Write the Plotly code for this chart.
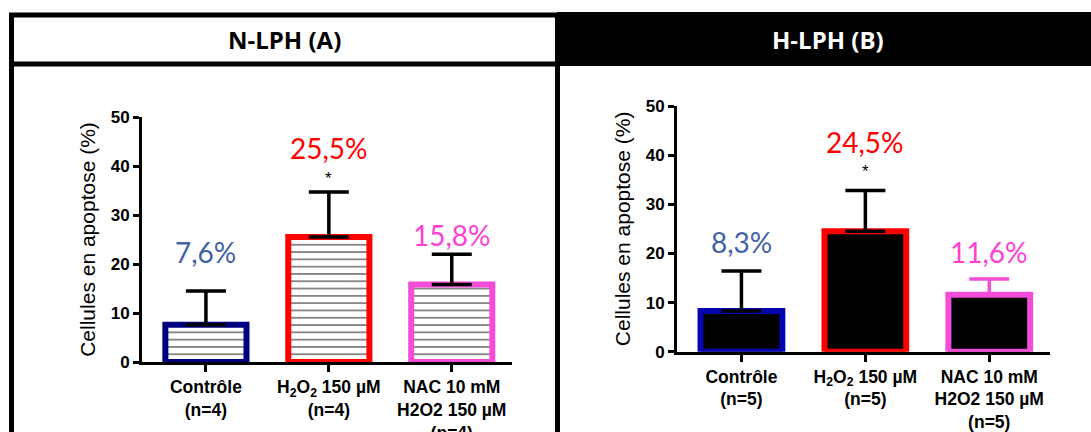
import plotly.graph_objects as go

# ---------------- data ----------------
categories_A = ["Contrôle<br>(n=4)",
                "H<sub>2</sub>O<sub>2</sub> 150 µM<br>(n=4)",
                "NAC 10 mM<br>H2O2 150 µM<br>(n=4)"]
values_A = [7.6, 25.5, 15.8]
errors_A = [6.9, 9.2, 6.2]
labels_A = ["7,6%", "25,5%", "15,8%"]
stars_A = ["", "*", ""]

categories_B = ["Contrôle<br>(n=5)",
                "H<sub>2</sub>O<sub>2</sub> 150 µM<br>(n=5)",
                "NAC 10 mM<br>H2O2 150 µM<br>(n=5)"]
values_B = [8.3, 24.5, 11.6]
errors_B = [8.1, 8.3, 3.2]
labels_B = ["8,3%", "24,5%", "11,6%"]
stars_B = ["", "*", ""]

panel_titles = ["N-LPH (A)", "H-LPH (B)"]
y_title = "Cellules en apoptose (%)"

# ---------------- styles / layout constants ----------------
W, H = 1091, 432
outline_A = ["#00007F", "#FF0000", "#F24CD8"]
outline_B = ["#0505B0", "#FF0000", "#F24CD8"]
errcol_B = ["black", "black", "#F24CD8"]
label_colors = ["#3F62A8", "#FF0000", "#FF40D2"]
label_y_A = [22.5, 43.6, 25.9]
label_y_B = [22.4, 42.6, 20.3]
star_y_A = [0, 37.5, 0]
star_y_B = [0, 36.7, 0]


def px(x):
    return x / W


def py(y):
    return 1 - y / H


fig = go.Figure()


def add_bars(cats, vals, errs, outlines, errcols, xa, ya, patterned):
    for i, (c, v, e) in enumerate(zip(cats, vals, errs)):
        marker = dict(color="white" if patterned else "black",
                      line=dict(color=outlines[i], width=6))
        if patterned:
            marker["pattern"] = dict(shape="-", size=7.3, solidity=0.24,
                                     fgcolor="#000000", bgcolor="white")
        fig.add_trace(go.Bar(
            x=[c], y=[v], width=0.66, marker=marker,
            error_y=dict(type="data", array=[e], arrayminus=[0],
                         symmetric=False, color=errcols[i],
                         thickness=3.5, width=20),
            xaxis=xa, yaxis=ya, showlegend=False))


add_bars(categories_A, values_A, errors_A, outline_A, ["black"] * 3, "x", "y", True)
add_bars(categories_B, values_B, errors_B, outline_B, errcol_B, "x2", "y2", False)

annotations = []
for cats, labs, ly, stars, sy, xr, yr in [
        (categories_A, labels_A, label_y_A, stars_A, star_y_A, "x", "y"),
        (categories_B, labels_B, label_y_B, stars_B, star_y_B, "x2", "y2")]:
    for i, c in enumerate(cats):
        annotations.append(dict(x=c, y=ly[i], xref=xr, yref=yr, text=labs[i],
                                showarrow=False, xanchor="center", yanchor="middle",
                                font=dict(family="Lato", size=28, color=label_colors[i])))
        if stars[i]:
            annotations.append(dict(x=c, y=sy[i], xref=xr, yref=yr, text=stars[i],
                                    showarrow=False, xanchor="center", yanchor="middle",
                                    font=dict(family="Liberation Sans", size=17, color="black")))

# panel titles
annotations.append(dict(x=px(284), y=py(39), xref="paper", yref="paper",
                        text="<b>" + panel_titles[0] + "</b>", showarrow=False,
                        xanchor="center", yanchor="middle",
                        font=dict(family="Open Sans", size=24, color="black")))
annotations.append(dict(x=px(828), y=py(39), xref="paper", yref="paper",
                        text="<b>" + panel_titles[1] + "</b>", showarrow=False,
                        xanchor="center", yanchor="middle",
                        font=dict(family="Open Sans", size=24, color="white")))

shapes = [
    # black header of panel B
    dict(type="rect", xref="paper", yref="paper", x0=px(557), x1=px(1095),
         y0=py(12), y1=py(66), fillcolor="black", line=dict(width=0), layer="below"),
    # header box of panel A
    dict(type="rect", xref="paper", yref="paper", x0=px(11.5), x1=px(557.5),
         y0=py(15), y1=py(64), line=dict(color="black", width=5)),
    # side borders of panel A
    dict(type="line", xref="paper", yref="paper", x0=px(11.5), x1=px(11.5),
         y0=py(64), y1=py(440), line=dict(color="black", width=5)),
    dict(type="line", xref="paper", yref="paper", x0=px(557.5), x1=px(557.5),
         y0=py(64), y1=py(440), line=dict(color="black", width=5)),
]

tickfont = dict(family="Liberation Sans", size=17, color="black", weight="bold")
xfont = dict(family="Liberation Sans", size=17.5, color="black", weight="bold")


def xaxis(dom, anchor):
    return dict(domain=dom, anchor=anchor, type="category", range=[-0.52, 2.49],
                showline=True, linecolor="black", linewidth=3,
                ticks="outside", ticklen=7, tickwidth=2.5, tickcolor="black",
                tickfont=xfont, showgrid=False, zeroline=False,
                automargin=False, fixedrange=True)


def yaxis(dom, anchor):
    return dict(domain=dom, anchor=anchor, range=[0, 50], dtick=10,
                showline=True, linecolor="black", linewidth=3,
                ticks="outside", ticklen=6, tickwidth=2.5, tickcolor="black",
                tickfont=tickfont, showgrid=False, zeroline=False,
                automargin=False, fixedrange=True,
                title=dict(text=y_title, standoff=10,
                           font=dict(family="Liberation Sans", size=21, color="black")))


fig.update_layout(
    width=W, height=H, autosize=False,
    margin=dict(l=0, r=0, t=0, b=0, pad=0, autoexpand=False),
    paper_bgcolor="white", plot_bgcolor="white",
    barmode="overlay",
    xaxis=xaxis([px(142), px(512)], "y"), yaxis=yaxis([py(362), py(117)], "x"),
    xaxis2=xaxis([px(677), px(1050)], "y2"), yaxis2=yaxis([py(351.7), py(106)], "x2"),
    annotations=annotations, shapes=shapes,
)

fig.write_html("out.html", config={"displayModeBar": False},
               post_script="document.body.style.margin='0px';document.body.style.padding='0px';")
